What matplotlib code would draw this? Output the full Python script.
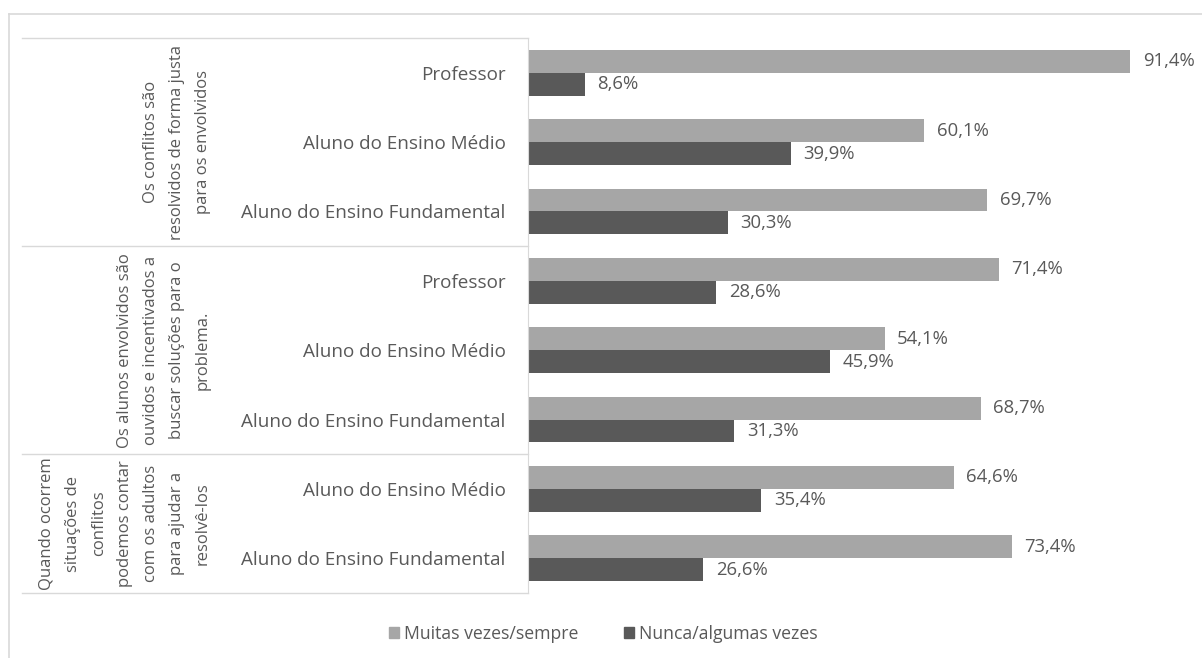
import matplotlib
matplotlib.use("Agg")
import matplotlib.pyplot as plt
from matplotlib.patches import Patch
from matplotlib.lines import Line2D
from matplotlib.transforms import blended_transform_factory
import numpy as np

plt.rcParams['font.family'] = ['Open Sans', 'DejaVu Sans']

# dados
grupos = [
    "Os conflitos são\nresolvidos de forma justa\npara os envolvidos",
    "Os alunos envolvidos são\nouvidos e incentivados a\nbuscar soluções para o\nproblema.",
    "Quando ocorrem\nsituações de\nconflitos\npodemos contar\ncom os adultos\npara ajudar a\nresolvê-los",
]
tam_grupos = [3, 3, 2]
categorias = ["Professor", "Aluno do Ensino Médio", "Aluno do Ensino Fundamental",
              "Professor", "Aluno do Ensino Médio", "Aluno do Ensino Fundamental",
              "Aluno do Ensino Médio", "Aluno do Ensino Fundamental"]
muitas = [91.4, 60.1, 69.7, 71.4, 54.1, 68.7, 64.6, 73.4]
nunca = [8.6, 39.9, 30.3, 28.6, 45.9, 31.3, 35.4, 26.6]
series = ["Muitas vezes/sempre", "Nunca/algumas vezes"]

cor_clara = "#A6A6A6"
cor_escura = "#595959"
cor_texto = "#595959"
cor_linha = "#D9D9D9"

W, H = 1202, 658
fig = plt.figure(figsize=(W / 100, H / 100), dpi=100)
ax = fig.add_axes([528 / W, 1 - 593 / H, (1187 - 528) / W, (593 - 38) / H])

y = np.arange(len(categorias))
h = 0.33
ax.barh(y - h / 2, muitas, height=h, color=cor_clara)
ax.barh(y + h / 2, nunca, height=h, color=cor_escura)

for yi, v in zip(y - h / 2, muitas):
    ax.annotate(f"{v:.1f}%".replace(".", ","), (v, yi), xytext=(9, 0),
                textcoords="offset points", va="center", ha="left",
                fontsize=13.3, color=cor_texto)
for yi, v in zip(y + h / 2, nunca):
    ax.annotate(f"{v:.1f}%".replace(".", ","), (v, yi), xytext=(9, 0),
                textcoords="offset points", va="center", ha="left",
                fontsize=13.3, color=cor_texto)

ax.set_xlim(0, 100)
ax.set_ylim(len(categorias) - 0.5, -0.5)
ax.set_xticks([])
ax.set_yticks(y)
ax.set_yticklabels(categorias, fontsize=13.6, color=cor_texto)
ax.tick_params(axis="y", length=0, pad=16)
for s in ["top", "right", "bottom"]:
    ax.spines[s].set_visible(False)
ax.spines["left"].set_color(cor_linha)

# rótulos dos grupos e linhas separadoras
tr = blended_transform_factory(fig.transFigure, ax.transData)
inicio = 0
for g, n in zip(grupos, tam_grupos):
    centro = inicio + (n - 1) / 2
    ax.text(211 / W, centro, g, transform=tr, rotation=90, ha="right",
            va="center", multialignment="center", fontsize=12,
            color=cor_texto, linespacing=1.84)
    inicio += n
for b in [-0.5, 2.5, 5.5, 7.5]:
    ax.add_line(Line2D([22 / W, 528 / W], [b, b], transform=tr,
                       color=cor_linha, lw=1, clip_on=False))

# borda externa
fig.add_artist(Line2D([9 / W, 1], [1 - 14 / H, 1 - 14 / H], color=cor_linha, lw=1.2))
fig.add_artist(Line2D([9 / W, 9 / W], [0, 1 - 14 / H], color=cor_linha, lw=1.2))

handles = [Patch(color=cor_clara), Patch(color=cor_escura)]
fig.legend(handles, series, loc="center", bbox_to_anchor=(603 / W, 1 - 634 / H),
           ncol=2, frameon=False, fontsize=12.7, handlelength=0.6, handleheight=0.6,
           handletextpad=0.25, columnspacing=2.6, labelcolor=cor_texto)

fig.savefig("out.png", dpi=100)
